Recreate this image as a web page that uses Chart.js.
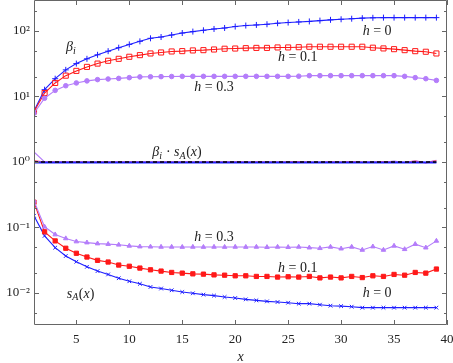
<!DOCTYPE html>
<html>
<head>
<meta charset="utf-8">
<script src="https://cdn.jsdelivr.net/npm/chart.js@4.4.1/dist/chart.umd.min.js"></script>
<style>
  html, body { margin: 0; padding: 0; background: #fff; }
  #wrap { width: 453px; height: 363px; }
</style>
</head>
<body>
<div id="wrap"><canvas id="chart" width="453" height="363"></canvas></div>
<script>
// x positions (system size)
const xValues = [1,2,3,4,5,6,7,8,9,10,11,12,13,14,15,16,17,18,19,20,
                 21,22,23,24,25,26,27,28,29,30,31,32,33,34,35,36,37,38,39];

// beta_i curves
const betaH0 = [6.0,12.7,18.7,25.5,31.8,37.6,43.3,49.2,55.6,62.4,69.5,77.3,80.9,86.8,93.1,97.9,102.5,107.4,111.2,116.9,
                121.1,123.7,126.7,131.3,134.6,137.5,140,144,148,151,154,157,159,160,160,160,160,160,160];
const betaH01 = [5.9,11.3,16.1,20.8,24.6,28.3,31.8,35.1,37.6,40.4,42.8,45.4,47.0,48.7,49.3,50.5,51.0,52.2,53.6,54.0,
                 54.7,55.2,55.2,56.1,56.1,56.6,57.5,57.5,57.5,57.5,57.5,57.5,55.6,54.2,52.8,51.0,49.2,48.2,45.4];
const betaH03 = [5.55,9.4,12.4,14.6,16.1,17.3,18.1,18.5,18.9,19.4,19.9,20.0,20.1,20.2,20.3,20.3,20.3,20.3,20.3,20.3,
                 20.3,20.3,20.3,20.3,20.3,20.4,20.8,20.8,20.8,20.8,20.8,20.8,20.8,20.8,20.8,20.3,19.4,18.7,17.6];

// beta_i * s_A(x)
const prodH0 = [0.98,0.98,0.98,0.98,0.98,0.98,0.98,0.98,0.98,0.98,0.98,0.98,0.98,0.98,0.98,0.98,0.98,0.98,0.98,0.98,
                0.98,0.98,0.98,0.98,0.98,0.98,0.98,0.98,0.98,0.98,0.98,0.98,0.98,0.98,0.98,0.98,0.98,0.98,0.98];
const prodH01 = [1.05,1.0,1.01,1.0,1.01,1.0,1.0,1.01,1.0,1.01,1.0,1.0,1.01,1.0,1.01,1.0,1.0,1.01,1.0,1.01,
                 1.0,1.01,1.0,1.0,1.01,1.02,1.0,0.99,1.01,1.0,1.02,1.0,0.99,1.02,1.0,0.99,1.03,0.97,1.05];
const prodH03 = [1.42,1.0,1.0,1.01,1.0,1.0,1.01,1.0,1.0,1.0,1.01,1.0,1.0,1.01,1.0,1.0,1.01,1.0,1.0,1.01,
                 1.0,1.0,1.01,1.0,1.0,1.02,1.0,1.0,1.02,0.99,1.02,0.99,1.02,0.99,1.03,0.98,1.04,0.98,1.06];
const prodRef = [1,1,1,1,1,1,1,1,1,1,1,1,1,1,1,1,1,1,1,1,1,1,1,1,1,1,1,1,1,1,1,1,1,1,1,1,1,1,1];

// s_A(x) curves
const sAH0 = [0.151,0.0745,0.0492,0.0367,0.030,0.0251,0.0216,0.0192,0.0168,0.0151,0.0138,0.01236,0.01169,0.0110,0.01035,
              0.00989,0.00944,0.00912,0.00868,0.00838,0.0080,0.00772,0.00745,0.00728,0.00711,0.00687,0.00687,0.00663,
              0.0064,0.0063,0.00618,0.00597,0.00597,0.00597,0.00597,0.00597,0.00597,0.00597,0.00597];
const sAH01 = [0.243,0.0859,0.0624,0.0482,0.0404,0.0354,0.0315,0.0297,0.0267,0.0256,0.024,0.0226,0.0216,0.0206,0.0201,
               0.0196,0.0194,0.0189,0.0187,0.0183,0.0183,0.0179,0.0179,0.0175,0.0177,0.0175,0.0179,0.0170,0.0175,
               0.0170,0.0179,0.0172,0.0183,0.0179,0.0192,0.0187,0.0206,0.0201,0.0232];
const sAH03 = [0.255,0.1025,0.078,0.068,0.061,0.0588,0.0568,0.0557,0.0544,0.0524,0.0511,0.0508,0.0505,0.0505,0.0503,
               0.0505,0.0503,0.0505,0.0503,0.0505,0.0503,0.0505,0.0500,0.0505,0.0500,0.0505,0.0492,0.0482,0.0505,
               0.0475,0.0505,0.0454,0.0511,0.0454,0.0524,0.0465,0.0557,0.0492,0.0624];

// axis ticks
const xTickValues = [5, 10, 15, 20, 25, 30, 35, 40];
const yTickPowers = [-2, -1, 0, 1, 2];
const yMinorFactors = [2, 5];

// text labels: [x, y, segments]
const labels = [
  [4.5, 57,    [['β', 'i'], ['i', 's']]],
  [33.4, 100,  [['h', 'i'], [' = 0', 'r']]],
  [25.9, 40,   [['h', 'i'], [' = 0.1', 'r']]],
  [18.0, 14,   [['h', 'i'], [' = 0.3', 'r']]],
  [14.5, 1.42, [['β', 'i'], ['i', 's'], [' · ', 'r'], ['s', 'i'], ['A', 's'], ['(', 'r'], ['x', 'i'], [')', 'r']]],
  [18.0, 0.0716, [['h', 'i'], [' = 0.3', 'r']]],
  [25.9, 0.0241, [['h', 'i'], [' = 0.1', 'r']]],
  [33.4, 0.0100, [['h', 'i'], [' = 0', 'r']]],
  [5.4, 0.0097, [['s', 'i'], ['A', 's'], ['(', 'r'], ['x', 'i'], [')', 'r']]]
];

const BLUE = 'rgb(30,30,255)';
const RED = 'rgb(255,25,25)';
const PURPLE = 'rgb(180,125,250)';
const SERIF = '"Liberation Serif", "DejaVu Serif", serif';

function pts(arr) {
  return arr.map((v, i) => ({ x: xValues[i], y: v }));
}

function series(data, color, style, opts) {
  return Object.assign({
    data: pts(data),
    borderColor: color,
    backgroundColor: color,
    borderWidth: 1.1,
    pointStyle: style,
    pointRadius: 2.6,
    pointBorderWidth: 1,
    pointBorderColor: color,
    pointBackgroundColor: color,
    tension: 0
  }, opts || {});
}

const frame = {
  id: 'frame',
  afterDraw(chart) {
    const ctx = chart.ctx;
    const a = chart.chartArea;
    const xs = chart.scales.x, ys = chart.scales.y;
    ctx.save();
    ctx.strokeStyle = '#666';
    ctx.lineWidth = 1;
    ctx.beginPath();
    ctx.rect(a.left + 0.5, a.top + 0.5, a.right - a.left - 1, a.bottom - a.top - 1);
    ctx.stroke();
    ctx.beginPath();
    xTickValues.forEach(v => {
      const px = Math.round(xs.getPixelForValue(v)) + 0.5;
      ctx.moveTo(px, a.bottom); ctx.lineTo(px, a.bottom - 5);
      ctx.moveTo(px, a.top); ctx.lineTo(px, a.top + 5);
    });
    yTickPowers.forEach(p => {
      const py = Math.round(ys.getPixelForValue(Math.pow(10, p))) + 0.5;
      ctx.moveTo(a.left, py); ctx.lineTo(a.left + 5, py);
      ctx.moveTo(a.right, py); ctx.lineTo(a.right - 5, py);
    });
    for (let p = -3; p <= 2; p++) {
      yMinorFactors.forEach(f => {
        const v = f * Math.pow(10, p);
        if (v < ys.min || v > ys.max) return;
        const py = Math.round(ys.getPixelForValue(v)) + 0.5;
        ctx.moveTo(a.left, py); ctx.lineTo(a.left + 3, py);
        ctx.moveTo(a.right, py); ctx.lineTo(a.right - 3, py);
      });
    }
    ctx.stroke();
    ctx.restore();
  }
};

const texts = {
  id: 'texts',
  afterDatasetsDraw(chart) {
    const ctx = chart.ctx;
    const xs = chart.scales.x, ys = chart.scales.y;
    ctx.save();
    ctx.fillStyle = '#222';
    ctx.textBaseline = 'middle';
    ctx.textAlign = 'left';
    const fontFor = k => k === 'i' ? 'italic 14px ' + SERIF : k === 's' ? 'italic 10px ' + SERIF : '14px ' + SERIF;
    labels.forEach(([lx, ly, segs]) => {
      let w = 0;
      segs.forEach(([t, k]) => { ctx.font = fontFor(k); w += ctx.measureText(t).width + (k === 's' ? 0.5 : 0); });
      let cx = xs.getPixelForValue(lx) - w / 2;
      const cy = ys.getPixelForValue(ly);
      segs.forEach(([t, k]) => {
        ctx.font = fontFor(k);
        ctx.fillText(t, cx, k === 's' ? cy + 4 : cy);
        cx += ctx.measureText(t).width + (k === 's' ? 0.5 : 0);
      });
    });
    ctx.restore();
  }
};

const supers = { '-': '⁻', '0': '⁰', '1': '¹', '2': '²' };

new Chart(document.getElementById('chart'), {
  type: 'line',
  data: {
    datasets: [
      series(prodRef, '#000', false, { borderWidth: 1.5, borderDash: [4, 3], pointRadius: 0, order: 0 }),
      series(prodH03, PURPLE, false, { pointRadius: 0, order: 3 }),
      series(prodH01, 'rgb(255,90,120)', false, { pointRadius: 0, order: 2 }),
      series(prodH0, BLUE, false, { pointRadius: 0, borderWidth: 2, order: 1 }),
      series(betaH03, PURPLE, 'circle', { pointRadius: 2.3 }),
      series(betaH01, RED, 'rect', { pointRadius: 3.6, pointBackgroundColor: 'rgba(255,255,255,0)' }),
      series(betaH0, BLUE, 'cross', { pointRadius: 3 }),
      series(sAH03, PURPLE, 'triangle', { pointRadius: 2.6 }),
      series(sAH01, RED, 'rect', { pointRadius: 3 }),
      series(sAH0, BLUE, 'crossRot', { pointRadius: 2.6 })
    ]
  },
  options: {
    responsive: false,
    animation: false,
    layout: { autoPadding: false, padding: { left: 0, right: 6, top: 0, bottom: 0 } },
    plugins: { legend: { display: false }, tooltip: { enabled: false } },
    scales: {
      x: {
        type: 'linear',
        min: 1,
        max: 40,
        afterFit: s => { s.height = 38; s.paddingLeft = 0; s.paddingRight = 0; },
        grid: { display: false, drawTicks: false },
        border: { display: false },
        ticks: {
          stepSize: 5,
          padding: 7,
          color: '#222',
          font: { family: SERIF, size: 13 },
          callback: v => (v % 5 === 0 && v > 1) ? String(v) : null
        },
        title: {
          display: true,
          text: 'x',
          color: '#222',
          font: { family: SERIF, size: 14, style: 'italic', lineHeight: 0.8 },
          padding: 0
        }
      },
      y: {
        type: 'logarithmic',
        min: 0.003246,
        max: 297.3,
        afterFit: s => { s.width = 34; s.paddingTop = 0; s.paddingBottom = 0; },
        grid: { display: false, drawTicks: false },
        border: { display: false },
        ticks: {
          autoSkip: false,
          padding: 4,
          color: '#222',
          font: { family: SERIF, size: 13 },
          callback: v => {
            const e = Math.log10(v);
            const r = Math.round(e);
            if (Math.abs(e - r) > 1e-6 || !yTickPowers.includes(r)) return null;
            return '10' + String(r).split('').map(c => supers[c]).join('');
          }
        }
      }
    }
  },
  plugins: [frame, texts]
});
</script>
</body>
</html>
